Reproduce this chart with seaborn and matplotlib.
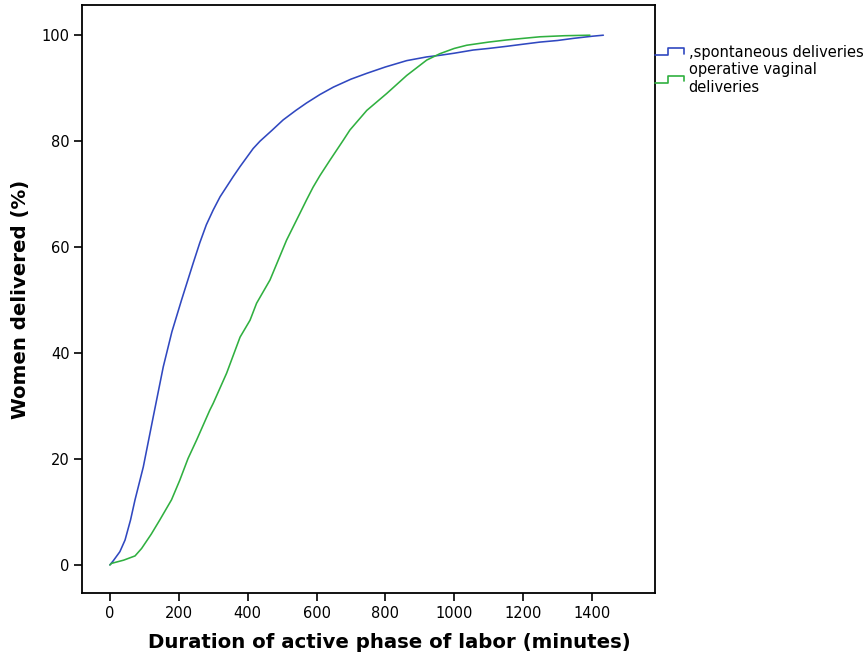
import numpy as np
import pandas as pd
import matplotlib
matplotlib.use("Agg")
import matplotlib.pyplot as plt
import seaborn as sns
from matplotlib.legend_handler import HandlerBase
from matplotlib.lines import Line2D

# ---- data ----
groups = [",spontaneous deliveries", "operative vaginal\ndeliveries"]
time_spont = [0, 10, 29, 44, 60, 73, 97, 126, 155, 180, 208, 242, 261, 280, 300, 320, 358,
              378, 416, 436, 470, 503, 540, 571, 610, 649, 700, 746, 800, 862, 920,
              958, 1000, 1055, 1100, 1152, 1200, 1249, 1300, 1346, 1400, 1433]
pct_spont = [0, 0.8, 2.5, 4.7, 8.5, 12.3, 18.5, 28, 37.4, 44, 50, 57, 60.8, 64.2, 67, 69.5, 73.3,
             75.2, 78.6, 80, 82, 84, 85.8, 87.2, 88.8, 90.2, 91.7, 92.8, 94, 95.2, 95.9,
             96.2, 96.6, 97.2, 97.5, 97.9, 98.3, 98.7, 99.0, 99.4, 99.8, 100]
time_op = [0, 5, 40, 73, 92, 120, 145, 179, 203, 227, 252, 290, 300, 339, 378, 407, 426,
           465, 513, 552, 571, 590, 610, 639, 678, 697, 746, 804, 862, 920, 958, 1000, 1036,
           1100, 1152, 1200, 1249, 1320, 1394]
pct_op = [0, 0.3, 0.9, 1.7, 3.1, 5.8, 8.5, 12.3, 16, 20.1, 23.6, 29.2, 30.5, 36.2, 43,
          46.2, 49.4, 53.8, 61.3, 66.4, 68.9, 71.3, 73.5, 76.4, 80.2, 82.1, 85.8, 89, 92.4,
          95.3, 96.5, 97.5, 98.1, 98.7, 99.1, 99.4, 99.7, 99.9, 100]
x_ticks = [0, 200, 400, 600, 800, 1000, 1200, 1400]
y_ticks = [0, 20, 40, 60, 80, 100]
colors = ["#3048c0", "#30b040"]

df = pd.concat([
    pd.DataFrame({"time": time_spont, "pct": pct_spont, "group": groups[0]}),
    pd.DataFrame({"time": time_op, "pct": pct_op, "group": groups[1]}),
], ignore_index=True)

sns.set_theme(style="ticks")
plt.rcParams["font.family"] = ["DejaVu Sans"]
plt.rcParams["text.color"] = "black"
plt.rcParams["axes.labelcolor"] = "black"

fig = plt.figure(figsize=(8.68, 6.60), dpi=100)
ax = fig.add_axes([82 / 868, 1 - 593 / 660, (655 - 82) / 868, (593 - 5) / 660])

sns.lineplot(data=df, x="time", y="pct", hue="group", palette=colors,
             estimator=None, sort=False, linewidth=1.15, ax=ax, legend=False)

ax.set_xlim(-81, 1583)
ax.set_ylim(-5.3, 105.7)
ax.set_xticks(x_ticks)
ax.set_yticks(y_ticks)
ax.tick_params(axis="both", direction="out", length=6, width=1.2, labelsize=10.5,
               colors="black", pad=3)
for s in ax.spines.values():
    s.set_visible(True)
    s.set_linewidth(1.3)
    s.set_color("black")

ax.set_xlabel("Duration of active phase of labor (minutes)", fontsize=14.2,
              fontweight="bold")
ax.set_ylabel("Women delivered (%)", fontsize=14.2, fontweight="bold")
ax.xaxis.set_label_coords(0.536, -0.068)
ax.yaxis.set_label_coords(-0.091, 0.5)


class StepHandler(HandlerBase):
    def create_artists(self, legend, orig_handle, xdescent, ydescent, width, height,
                       fontsize, trans):
        x0, x1 = -xdescent, -xdescent + width
        xm = x0 + width * 0.45
        ylo = -ydescent + height * 0.15
        yhi = -ydescent + height * 0.85
        ln = Line2D([x0, xm, xm, x1, x1], [ylo, ylo, yhi, yhi, ylo + 0.15 * height],
                    color=orig_handle.get_color(), lw=1.2, transform=trans)
        return [ln]


handles = [Line2D([], [], color=c) for c in colors]
fig.legend(handles, groups, handler_map={Line2D: StepHandler()},
           loc="upper left", bbox_to_anchor=(655 / 868, 1 - 45 / 660),
           frameon=False, fontsize=10.5, handlelength=2.0, handletextpad=0.3,
           labelspacing=0.15, borderaxespad=0, borderpad=0)

fig.savefig("out.png", dpi=100)
